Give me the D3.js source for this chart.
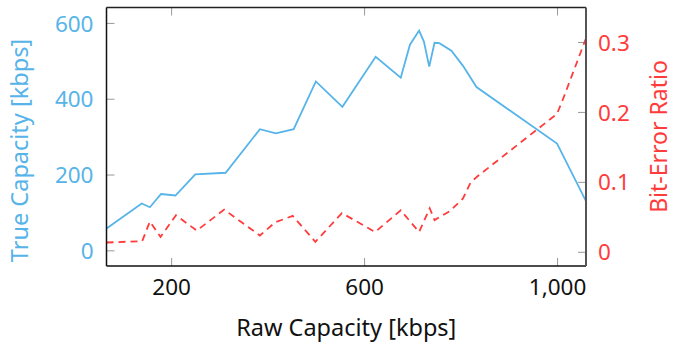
<!DOCTYPE html>
<html>
<head>
<meta charset="utf-8">
<script src="https://cdn.jsdelivr.net/npm/d3@7"></script>
<style>
  body { margin: 0; background: #fff; }
  svg text { font-family: "Noto Sans", sans-serif; }
</style>
</head>
<body>
<div id="chart"></div>
<script>
// true capacity series
var capRaw = [65, 138, 155, 178, 208, 249, 312, 383, 416, 453, 499, 554, 623, 675, 694, 713, 723, 734, 745, 755, 780, 804, 832, 999, 1059];
var capTrue = [59, 125, 115, 150, 146, 202, 206, 321, 310, 321, 447, 380, 512, 457, 544, 581, 552, 486, 549, 548, 528, 488, 432, 283, 131];

// bit error ratio series
var berRaw = [65, 139, 155, 177, 209, 252, 309, 383, 415, 451, 498, 553, 622, 675, 713, 735, 745, 777, 804, 820, 833, 999, 1013, 1059];
var berVal = [0.014, 0.016, 0.044, 0.022, 0.053, 0.031, 0.061, 0.024, 0.043, 0.052, 0.015, 0.056, 0.029, 0.060, 0.029, 0.063, 0.046, 0.059, 0.077, 0.100, 0.108, 0.198, 0.222, 0.306];

var xTicks = [200, 600, 1000];
var capTicks = [0, 200, 400, 600];
var berTicks = [0, 0.1, 0.2, 0.3];

var blue = "#56b4e9", red = "#ff3b3b";

//Helper variables
var W = 674, H = 343;
var margin = {top: 7.5, right: 88, bottom: 77, left: 106.5},
    width = W - margin.left - margin.right,
    height = H - margin.top - margin.bottom;

var x = d3.scaleLinear().domain([65, 1059]).range([0, width]),
    y = d3.scaleLinear().domain([-40, 642]).range([height, 0]),
    y2 = d3.scaleLinear().domain([-0.0196, 0.35]).range([height, 0]);

var svg = d3.select("#chart").append("svg")
    .attr("width", W)
    .attr("height", H);

var g = svg.append("g")
    .attr("transform", "translate(" + margin.left + "," + margin.top + ")");

var fmt = d3.format(",");

// inner ticks
var tickLen = 8;
g.selectAll(".xt-b").data(xTicks).enter().append("line")
    .attr("x1", function(d) { return x(d); }).attr("x2", function(d) { return x(d); })
    .attr("y1", height).attr("y2", height - tickLen)
    .attr("stroke", "#999").attr("stroke-width", 1);
g.selectAll(".xt-t").data(xTicks).enter().append("line")
    .attr("x1", function(d) { return x(d); }).attr("x2", function(d) { return x(d); })
    .attr("y1", 0).attr("y2", tickLen)
    .attr("stroke", "#999").attr("stroke-width", 1);
g.selectAll(".yt-l").data(capTicks).enter().append("line")
    .attr("x1", 0).attr("x2", tickLen)
    .attr("y1", function(d) { return y(d); }).attr("y2", function(d) { return y(d); })
    .attr("stroke", "#999").attr("stroke-width", 1);
g.selectAll(".yt-r").data(berTicks).enter().append("line")
    .attr("x1", width).attr("x2", width - tickLen)
    .attr("y1", function(d) { return y2(d); }).attr("y2", function(d) { return y2(d); })
    .attr("stroke", "#999").attr("stroke-width", 1);

// tick labels
g.selectAll(".xl").data(xTicks).enter().append("text")
    .attr("x", function(d) { return x(d); })
    .attr("y", height + 29)
    .attr("text-anchor", "middle")
    .style("font-size", "22.5px")
    .attr("fill", "#111")
    .text(fmt);
g.selectAll(".yl").data(capTicks).enter().append("text")
    .attr("x", -13)
    .attr("y", function(d) { return y(d); })
    .attr("dy", "0.36em")
    .attr("text-anchor", "end")
    .style("font-size", "22.5px")
    .attr("fill", blue)
    .text(function(d) { return d; });
g.selectAll(".y2l").data(berTicks).enter().append("text")
    .attr("x", width + 12)
    .attr("y", function(d) { return y2(d); })
    .attr("dy", "0.36em")
    .attr("text-anchor", "start")
    .style("font-size", "22.5px")
    .attr("fill", red)
    .text(function(d) { return d; });

// clip lines to the frame
svg.append("defs").append("clipPath").attr("id", "clip")
    .append("rect").attr("width", width).attr("height", height);

var capLine = d3.line()
    .x(function(d, i) { return x(capRaw[i]); })
    .y(function(d) { return y(d); });
var berLine = d3.line()
    .x(function(d, i) { return x(berRaw[i]); })
    .y(function(d) { return y2(d); });

g.append("path").datum(berVal)
    .attr("clip-path", "url(#clip)")
    .attr("d", berLine)
    .attr("fill", "none")
    .attr("stroke", red)
    .attr("stroke-width", 1.8)
    .attr("stroke-dasharray", "7,5");

g.append("path").datum(capTrue)
    .attr("clip-path", "url(#clip)")
    .attr("d", capLine)
    .attr("fill", "none")
    .attr("stroke", blue)
    .attr("stroke-width", 1.8);

// frame
g.append("line").attr("x1", 0).attr("x2", width).attr("y1", 0).attr("y2", 0)
    .attr("stroke", "#222").attr("stroke-width", 1.5);
g.append("line").attr("x1", 0).attr("x2", width).attr("y1", height).attr("y2", height)
    .attr("stroke", "#111").attr("stroke-width", 1.5);
g.append("line").attr("x1", 0).attr("x2", 0).attr("y1", 0).attr("y2", height)
    .attr("stroke", "#111").attr("stroke-width", 1.5);
g.append("line").attr("x1", width).attr("x2", width).attr("y1", 0).attr("y2", height)
    .attr("stroke", "#555").attr("stroke-width", 2);

// axis titles
svg.append("text")
    .attr("x", margin.left + width / 2)
    .attr("y", 336)
    .attr("text-anchor", "middle")
    .style("font-size", "23.5px")
    .attr("fill", "#111")
    .text("Raw Capacity [kbps]");
svg.append("text")
    .attr("transform", "translate(28," + (margin.top + 143) + ") rotate(-90)")
    .attr("text-anchor", "middle")
    .style("font-size", "23.5px")
    .attr("fill", blue)
    .text("True Capacity [kbps]");
svg.append("text")
    .attr("transform", "translate(667," + (margin.top + 129) + ") rotate(-90)")
    .attr("text-anchor", "middle")
    .style("font-size", "23px")
    .attr("fill", red)
    .text("Bit-Error Ratio");
</script>
</body>
</html>
